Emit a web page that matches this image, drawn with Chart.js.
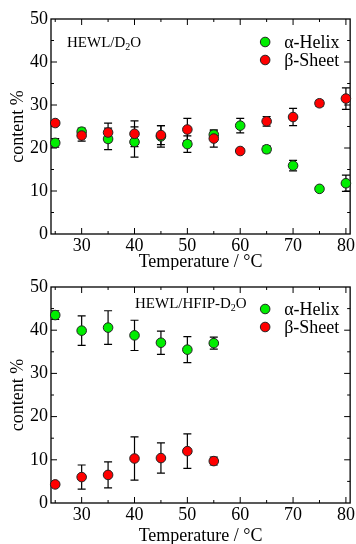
<!DOCTYPE html>
<html lang="en">
<head>
<meta charset="UTF-8">
<title>HEWL secondary structure</title>
<script src="https://cdn.jsdelivr.net/npm/chart.js"></script>
<style>
  body { margin: 0; background: #fff; }
  .panel { position: absolute; left: 0; width: 356px; }
</style>
</head>
<body>
<div class="panel" style="top:0"><canvas id="topChart" width="356" height="270"></canvas></div>
<div class="panel" style="top:270px"><canvas id="bottomChart" width="356" height="274"></canvas></div>
<script>
    // HEWL / D2O
    const temps = [25, 30, 35, 40, 45, 50, 55, 60, 65, 70, 75, 80];
    const helixD2O = [21.2, 23.8, 22.1, 21.4, 22.7, 20.9, 23.1, 25.2, 19.7, 15.9, 10.5, 11.8];
    const helixD2OErr = [1.0, 0.8, 2.5, 3.5, 2.5, 1.9, 0.9, 1.7, 0.8, 1.2, 0.5, 1.9];
    const sheetD2O = [25.8, 22.9, 23.6, 23.3, 23.0, 24.3, 22.2, 19.3, 26.2, 27.2, 30.4, 31.5];
    const sheetD2OErr = [0.5, 1.3, 2.2, 3.0, 2.2, 2.6, 2.0, 0.5, 1.1, 2.0, 0.7, 2.5];

    // HEWL / HFIP-D2O
    const tempsHFIP = [25, 30, 35, 40, 45, 50, 55];
    const helixHFIP = [43.5, 39.9, 40.6, 38.8, 37.1, 35.5, 37.0];
    const helixHFIPErr = [1.0, 3.4, 3.9, 3.5, 2.7, 3.0, 1.4];
    const sheetHFIP = [4.3, 6.0, 6.5, 10.3, 10.4, 12.0, 9.7];
    const sheetHFIPErr = [0.4, 2.8, 3.0, 5.0, 3.5, 4.0, 0.9];

    const xTicks = [30, 40, 50, 60, 70, 80];
    const yTicks = [0, 10, 20, 30, 40, 50];
    const seriesNames = ['α-Helix', 'β-Sheet'];

    const SERIF = '"Liberation Serif", "DejaVu Serif", serif';
    const GREEN = '#00ee00';
    const RED = '#ff0000';

    function toPoints(xs, ys) {
        return xs.map((x, i) => ({ x: x, y: ys[i] }));
    }

    // error bars, drawn behind the markers
    const errorBars = {
        id: 'errorBars',
        beforeDatasetsDraw(chart) {
            const ctx = chart.ctx;
            const xs = chart.scales.x, ys = chart.scales.y;
            ctx.save();
            ctx.strokeStyle = '#000';
            ctx.lineWidth = 1.2;
            chart.data.datasets.forEach(ds => {
                ds.data.forEach((p, i) => {
                    const err = ds.errors[i];
                    if (!err) return;
                    const x = xs.getPixelForValue(p.x);
                    const y1 = ys.getPixelForValue(p.y - err);
                    const y2 = ys.getPixelForValue(p.y + err);
                    ctx.beginPath();
                    ctx.moveTo(x, y1); ctx.lineTo(x, y2);
                    ctx.moveTo(x - 4, y1); ctx.lineTo(x + 4, y1);
                    ctx.moveTo(x - 4, y2); ctx.lineTo(x + 4, y2);
                    ctx.stroke();
                });
            });
            ctx.restore();
        }
    };

    // box frame with inward ticks on all four sides
    const frame = {
        id: 'frame',
        beforeDatasetsDraw(chart) {
            const ctx = chart.ctx;
            const a = chart.chartArea;
            const xs = chart.scales.x, ys = chart.scales.y;
            ctx.save();
            ctx.strokeStyle = '#000';
            ctx.lineWidth = 1.3;
            ctx.strokeRect(a.left, a.top, a.right - a.left, a.bottom - a.top);
            ctx.lineWidth = 1;
            ctx.beginPath();
            for (let v = 25; v <= 80; v += 5) {
                const x = xs.getPixelForValue(v);
                const len = v % 10 === 0 ? 6 : 3;
                ctx.moveTo(x, a.bottom); ctx.lineTo(x, a.bottom - len);
                ctx.moveTo(x, a.top); ctx.lineTo(x, a.top + len);
            }
            for (let v = 5; v < 50; v += 5) {
                const y = ys.getPixelForValue(v);
                const len = v % 10 === 0 ? 6 : 3;
                ctx.moveTo(a.left, y); ctx.lineTo(a.left + len, y);
                ctx.moveTo(a.right, y); ctx.lineTo(a.right - len, y);
            }
            ctx.stroke();
            ctx.restore();
        }
    };

    // legend + sample label inside the plot
    const insideText = {
        id: 'insideText',
        afterDraw(chart, args, opts) {
            const ctx = chart.ctx;
            const a = chart.chartArea;
            ctx.save();
            chart.data.datasets.forEach((ds, i) => {
                const mx = a.right - 85;
                const my = a.top + opts.legendTop + i * 18;
                ctx.beginPath();
                ctx.arc(mx, my, 4.8, 0, Math.PI * 2);
                ctx.fillStyle = ds.backgroundColor;
                ctx.fill();
                ctx.strokeStyle = '#222';
                ctx.lineWidth = 1;
                ctx.stroke();
                ctx.fillStyle = '#000';
                ctx.font = '18px ' + SERIF;
                ctx.textBaseline = 'middle';
                ctx.textAlign = 'left';
                ctx.fillText(ds.label, mx + 19, my + 1);
            });
            // sample name with subscript 2
            let x = a.left + opts.labelX;
            const y = a.top + opts.labelY;
            ctx.fillStyle = '#000';
            ctx.textBaseline = 'middle';
            ctx.font = '15px ' + SERIF;
            ctx.fillText(opts.before, x, y);
            x += ctx.measureText(opts.before).width;
            ctx.font = '10px ' + SERIF;
            ctx.fillText('2', x, y + 4);
            x += ctx.measureText('2').width;
            ctx.font = '15px ' + SERIF;
            ctx.fillText(opts.after, x, y);
            ctx.restore();
        }
    };

    function makeChart(id, xHeight, padTop, helixPts, helixErr, sheetPts, sheetErr, label) {
        const ctx = document.getElementById(id).getContext('2d');
        return new Chart(ctx, {
            type: 'scatter',
            data: {
                datasets: [
                    {
                        label: seriesNames[0],
                        data: helixPts,
                        errors: helixErr,
                        backgroundColor: GREEN,
                        borderColor: '#222',
                        borderWidth: 1,
                        pointRadius: 4.8,
                        order: 1,
                        clip: false
                    },
                    {
                        label: seriesNames[1],
                        data: sheetPts,
                        errors: sheetErr,
                        backgroundColor: RED,
                        borderColor: '#222',
                        borderWidth: 1,
                        pointRadius: 4.8,
                        order: 0,
                        clip: false
                    }
                ]
            },
            options: {
                responsive: false,
                animation: false,
                layout: { padding: { top: padTop, right: 5, left: 0, bottom: 0 } },
                scales: {
                    x: {
                        type: 'linear',
                        min: 24.2,
                        max: 80.8,
                        afterBuildTicks: s => { s.ticks = xTicks.map(v => ({ value: v })); },
                        afterFit: s => { s.height = xHeight; },
                        grid: { display: false, drawTicks: false },
                        border: { display: false },
                        ticks: { color: '#000', font: { family: SERIF, size: 18 }, padding: 1, maxRotation: 0 },
                        title: {
                            display: true,
                            text: 'Temperature / °C',
                            color: '#000',
                            font: { family: SERIF, size: 18, lineHeight: 1 },
                            padding: { top: 0, bottom: -1 }
                        }
                    },
                    y: {
                        min: 0,
                        max: 50,
                        afterBuildTicks: s => { s.ticks = yTicks.map(v => ({ value: v })); },
                        afterFit: s => { s.width = 51; },
                        grid: { display: false, drawTicks: false },
                        border: { display: false },
                        ticks: { color: '#000', font: { family: SERIF, size: 18 }, padding: 3 },
                        title: {
                            display: true,
                            text: 'content %',
                            color: '#000',
                            font: { family: SERIF, size: 18, lineHeight: 1 },
                            padding: { top: 9, bottom: 0 }
                        }
                    }
                },
                plugins: {
                    legend: { display: false },
                    tooltip: { enabled: false },
                    insideText: label
                }
            },
            plugins: [frame, errorBars, insideText]
        });
    }

    makeChart('topChart', 36, 19,
        toPoints(temps, helixD2O), helixD2OErr,
        toPoints(temps, sheetD2O), sheetD2OErr,
        { legendTop: 23, labelX: 16, labelY: 24, before: 'HEWL/D', after: 'O' });

    makeChart('bottomChart', 41, 17,
        toPoints(tempsHFIP, helixHFIP), helixHFIPErr,
        toPoints(tempsHFIP, sheetHFIP), sheetHFIPErr,
        { legendTop: 22, labelX: 84, labelY: 17, before: 'HEWL/HFIP-D', after: 'O' });
</script>
</body>
</html>
